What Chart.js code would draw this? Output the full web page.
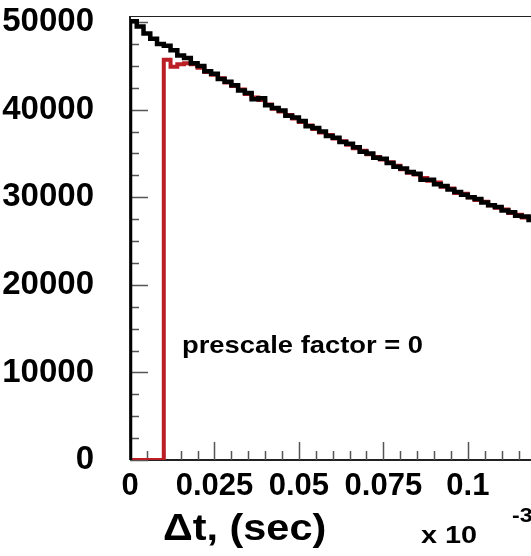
<!DOCTYPE html>
<html>
<head>
<meta charset="utf-8">
<script src="https://cdn.jsdelivr.net/npm/chart.js@4.4.1/dist/chart.umd.min.js"></script>
<style>
  html, body { margin: 0; padding: 0; background: #fff; overflow: hidden; }
  #wrap { width: 531px; height: 556px; }
</style>
</head>
<body>
<div id="wrap"><canvas id="chart" width="531" height="556"></canvas></div>
<script>
// x is in units of 10^-3 sec, one bin = 0.002
const binWidth = 0.002;

// all events (black)
const blackCounts = [
  50100, 49500, 48700, 48100, 47500, 47300, 46800, 46200, 45900, 45300,
  45000, 44400, 44100, 43500, 43200, 42800, 42200, 41900, 41200, 41300,
  40500, 40200, 39900, 39300, 39100, 38700, 38100, 37900, 37500, 37000,
  36800, 36300, 36100, 35700, 35200, 35000, 34500, 34400, 33900, 33500,
  33300, 32900, 32700, 32000, 32000, 31500, 31300, 30900, 30600, 30300,
  30000, 29800, 29400, 29100, 28900, 28500, 28300, 27900, 27800, 27400
];

// prescaled events (red), nothing below 0.01
const redCounts = [
  0, 0, 0, 0, 0, 45700, 44900, 45200, 45300, 45200,
  44800, 44300, 44000, 43600, 43100, 42700, 42300, 41800, 41400, 41100,
  40600, 40100, 39800, 39400, 39000, 38600, 38200, 37800, 37400, 37100,
  36700, 36400, 36000, 35600, 35300, 34900, 34600, 34300, 34000, 33600,
  33200, 32800, 32600, 32200, 31900, 31700, 31200, 31000, 30500, 30400,
  30000, 29700, 29500, 29100, 28800, 28600, 28200, 28000, 27700, 27500
];

const xTicks = [0, 0.025, 0.05, 0.075, 0.1];
const yTicks = [0, 10000, 20000, 30000, 40000, 50000];
const xMinorStep = 0.005;
const yMinorStep = 2500;

const fontFamily = '"Liberation Sans", Arial, Helvetica, sans-serif';

// histogram -> step points (left bin edges)
function toSteps(counts) {
  let pts = [{ x: 0, y: 0 }];
  counts.forEach((c, i) => pts.push({ x: i * binWidth, y: c }));
  pts.push({ x: counts.length * binWidth, y: counts[counts.length - 1] });
  return pts;
}

// ROOT-like frame with inside ticks and extra labels
const rootStyle = {
  id: 'rootStyle',
  beforeDatasetsDraw(chart) {
    const ctx = chart.ctx;
    const a = chart.chartArea;
    const xs = chart.scales.x, ys = chart.scales.y;
    ctx.save();
    ctx.strokeStyle = '#222';
    ctx.lineWidth = 1;
    ctx.beginPath();
    ctx.moveTo(a.left, a.top + 0.5);
    ctx.lineTo(a.right, a.top + 0.5);
    ctx.stroke();
    ctx.lineWidth = 2;
    ctx.beginPath();
    ctx.moveTo(a.left, a.bottom);
    ctx.lineTo(a.right, a.bottom);
    ctx.moveTo(a.left, a.bottom);
    ctx.lineTo(a.left, a.top);
    ctx.stroke();

    ctx.strokeStyle = '#555';
    ctx.lineWidth = 1.5;
    ctx.beginPath();
    for (let v = 0; v <= xs.max + 1e-9; v += xMinorStep) {
      const px = Math.round(xs.getPixelForValue(v)) + 0.5;
      const major = xTicks.some(t => Math.abs(t - v) < 1e-9);
      ctx.moveTo(px, a.bottom);
      ctx.lineTo(px, a.bottom - (major ? 18 : 9));
    }
    for (let v = 0; v <= ys.max; v += yMinorStep) {
      const py = Math.round(ys.getPixelForValue(v)) + 0.5;
      const major = v % 10000 === 0;
      ctx.moveTo(a.left, py);
      ctx.lineTo(a.left + (major ? 18 : 9), py);
    }
    ctx.stroke();
    ctx.restore();
  },
  afterDraw(chart) {
    const ctx = chart.ctx;
    ctx.save();
    ctx.fillStyle = '#000';
    ctx.textBaseline = 'alphabetic';
    ctx.textAlign = 'left';
    const text = (str, x, y, size, sx) => {
      ctx.save();
      ctx.font = 'bold ' + size + 'px ' + fontFamily;
      ctx.translate(x, y);
      ctx.scale(sx, 1);
      ctx.fillText(str, 0, 0);
      ctx.restore();
    };
    text('prescale factor = 0', 182, 353, 24, 1.14);
    text('\u0394t, (sec)', 163, 540, 36, 1.15);
    text('x 10', 421, 543, 24, 1.2);
    text('-3', 512, 522, 21, 1.1);
    ctx.restore();
  }
};

const ctx = document.getElementById('chart');

new Chart(ctx, {
  type: 'line',
  data: {
    datasets: [
      {
        label: 'all',
        data: toSteps(blackCounts),
        borderColor: '#000',
        borderWidth: 4.5,
        stepped: 'before',
        pointRadius: 0,
        fill: false,
        order: 0
      },
      {
        label: 'prescaled',
        data: toSteps(redCounts),
        borderColor: '#bb1e24',
        borderWidth: 4,
        stepped: 'before',
        pointRadius: 0,
        fill: false,
        order: 1
      }
    ]
  },
  options: {
    responsive: false,
    animation: false,
    layout: { padding: { top: 16, left: 0, right: 0, bottom: 0 } },
    plugins: {
      legend: { display: false },
      tooltip: { enabled: false }
    },
    scales: {
      x: {
        type: 'linear',
        min: 0,
        max: 0.1187,
        grid: { display: false },
        border: { display: false },
        afterBuildTicks: s => { s.ticks = xTicks.map(v => ({ value: v })); },
        afterFit: s => { s.height = 96; s.paddingLeft = 0; s.paddingRight = 0; },
        ticks: {
          color: '#000',
          autoSkip: false,
          maxRotation: 0,
          padding: 3,
          font: { family: fontFamily, size: 31, weight: 'bold', lineHeight: 1 },
          callback: v => String(Number(v.toFixed(3)))
        }
      },
      y: {
        min: 0,
        max: 50700,
        grid: { display: false },
        border: { display: false },
        afterBuildTicks: s => { s.ticks = yTicks.map(v => ({ value: v })); },
        afterFit: s => { s.width = 130; s.paddingTop = 0; s.paddingBottom = 0; },
        ticks: {
          color: '#000',
          padding: 28,
          font: { family: fontFamily, size: 33, weight: 'bold', lineHeight: 1 },
          callback: v => String(v)
        }
      }
    }
  },
  plugins: [rootStyle]
});
</script>
</body>
</html>
